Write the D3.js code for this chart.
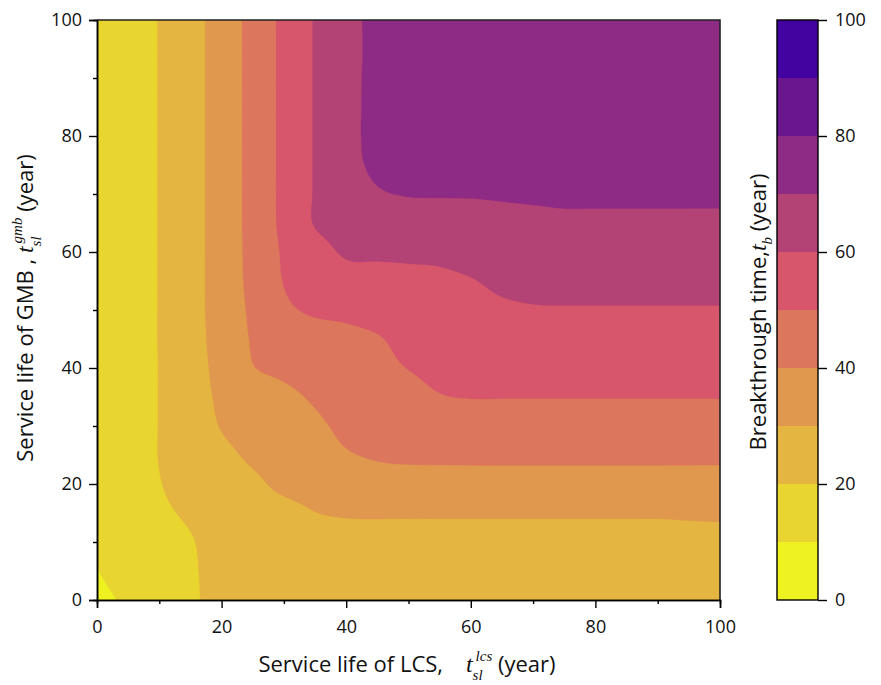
<!DOCTYPE html>
<html>
<head>
<meta charset="utf-8">
<script src="https://cdn.jsdelivr.net/npm/d3@7"></script>
<style>
  body { margin: 0; background: #fff; }
  text { font-family: "Open Sans", "Noto Sans", sans-serif; fill: #111; }
</style>
</head>
<body>
<svg id="chart" width="881" height="685"></svg>
<script>
// Service life of LCS (columns) and GMB (rows), years
const lcsLife = [0, 5, 10, 15, 20, 25, 30, 35, 40, 45, 50, 55, 60, 65, 70, 75, 80, 85, 90, 95, 100];
const gmbLife = [0, 5, 10, 15, 20, 25, 30, 35, 40, 45, 50, 55, 60, 65, 70, 75, 80, 85, 90, 95, 100];

// Breakthrough time t_b (year); one row per GMB service life, bottom (0) to top (100)
const breakthrough = [
  [7.5, 11.5, 15.3, 18.8, 22.5, 25, 26.5, 27.3, 27.5, 27.5, 27.5, 27.5, 27.5, 27.5, 27.5, 27.5, 27.5, 27.5, 27.5, 27.5, 27.5],
  [9.75, 13.5, 16.5, 19, 23, 25.5, 27, 27.8, 28, 28, 28, 28, 28, 28, 28, 28, 28, 28, 28, 28, 28],
  [10.6, 14.5, 17.3, 19.5, 23.3, 26, 27.5, 28.2, 28.5, 28.5, 28.5, 28.5, 28.5, 28.5, 28.5, 28.5, 28.5, 28.5, 28.5, 28.5, 28.5],
  [10.8, 15.3, 18.7, 21.1, 24.5, 27.2, 28.3, 29.9, 30.5, 30.7, 30.7, 30.7, 30.7, 30.7, 30.7, 30.7, 30.7, 30.7, 30.7, 30.9, 31.1],
  [11, 15.8, 19.7, 22.6, 25.6, 28.6, 31.4, 32.7, 34.5, 36.4, 36.8, 36.6, 36.6, 36.6, 36.6, 36.6, 36.6, 36.6, 36.6, 36.6, 36.6],
  [11.2, 16, 20.2, 24, 28, 31.3, 33.9, 36.5, 39.3, 40.8, 41.3, 41.6, 41.7, 41.7, 41.7, 41.7, 41.7, 41.7, 41.7, 41.7, 41.7],
  [11.5, 16.1, 20.2, 25.4, 30.4, 33.2, 36, 38.7, 41.5, 43.1, 44.3, 45.6, 46, 46, 46, 46, 46, 46, 46, 46, 46],
  [11.8, 16.2, 20.2, 26.2, 31.3, 34.6, 38, 40.9, 42.9, 44.9, 47.2, 49.6, 50.2, 50.2, 50.2, 50.2, 50.2, 50.2, 50.2, 50.2, 50.2],
  [12, 16.2, 20.2, 26.4, 32.6, 39.6, 41.7, 43.8, 45.8, 47.5, 50.2, 52, 52.5, 53, 53.2, 53.3, 53.3, 53.3, 53.3, 53.3, 53.3],
  [12.2, 16.3, 20.3, 26.5, 33.4, 40.6, 42.7, 45.1, 47.4, 49.3, 52.8, 54.2, 54.9, 55.9, 56.4, 56.4, 56.4, 56.4, 56.4, 56.4, 56.4],
  [12.5, 16.3, 20.3, 26.6, 33.9, 41.6, 48, 51.5, 52.4, 54, 55.5, 56.4, 57.3, 58.7, 59.4, 59.5, 59.5, 59.5, 59.5, 59.5, 59.5],
  [12.5, 16.3, 20.3, 26.6, 34.1, 42.5, 50.3, 54.2, 56.6, 57.3, 58.2, 58.6, 59.6, 61.6, 62.4, 62.5, 62.5, 62.5, 62.5, 62.5, 62.5],
  [12.5, 16.3, 20.3, 26.6, 34.1, 42.8, 51, 56.5, 61, 61.3, 61.4, 61.7, 63.1, 64.6, 65.2, 65.5, 65.5, 65.5, 65.5, 65.5, 65.5],
  [12.5, 16.3, 20.3, 26.6, 34.1, 43.1, 52.1, 60.5, 63.5, 65.2, 65.9, 66.1, 66.8, 67.7, 68.1, 68.5, 68.5, 68.5, 68.5, 68.5, 68.5],
  [12.5, 16.3, 20.3, 26.6, 34.1, 43.1, 52.2, 60.6, 67, 69.4, 70.3, 70.4, 70.4, 70.6, 70.9, 71.2, 71.2, 71.2, 71.2, 71.2, 71.2],
  [12.5, 16.3, 20.3, 26.6, 34.1, 43.1, 52.2, 60.6, 68, 70.7, 71, 71.1, 71.2, 71.5, 71.6, 71.8, 71.8, 71.9, 71.9, 72, 72],
  [12.5, 16.3, 20.3, 26.6, 34.1, 43.1, 52.2, 60.6, 68.3, 70.9, 71.5, 71.8, 72, 72.3, 72.4, 72.5, 72.6, 72.7, 72.8, 72.9, 73],
  [12.5, 16.3, 20.3, 26.6, 34.1, 43.1, 52.2, 60.6, 68.2, 71, 71.9, 72.3, 72.6, 73, 73.2, 73.4, 73.6, 73.8, 73.9, 74, 74.1],
  [12.5, 16.3, 20.3, 26.6, 34.1, 43.1, 52.2, 60.6, 68.1, 71.1, 72.3, 72.8, 73.2, 73.7, 74, 74.3, 74.6, 74.8, 75, 75.1, 75.2],
  [12.5, 16.3, 20.3, 26.6, 34.1, 43.1, 52.2, 60.6, 68, 71.1, 72.7, 73.3, 73.9, 74.4, 74.8, 75.2, 75.5, 75.8, 76, 76.2, 76.3],
  [12.5, 16.3, 20.3, 26.6, 34.1, 43.1, 52.2, 60.6, 68, 71.2, 73, 73.8, 74.5, 75, 75.5, 75.9, 76.2, 76.5, 76.7, 76.9, 77]
];

// Contour levels and the fill of each band [level, level + 10)
const levels = [0, 10, 20, 30, 40, 50, 60, 70, 80, 90, 100];
const bandColors = ["#EEF221", "#E9D52F", "#E4B540", "#E0974E", "#DC765C",
                    "#D7566B", "#B34275", "#8E2B85", "#6A178F", "#4203A0"];
const axisTicks = [0, 20, 40, 60, 80, 100];
const minorTicks = [10, 30, 50, 70, 90];

const svg = d3.select("#chart");
const plot = { left: 97, right: 720, top: 20, bottom: 600 };
const bar = { left: 777, right: 818 };

const x = d3.scaleLinear().domain([0, 100]).range([plot.left, plot.right]);
const y = d3.scaleLinear().domain([0, 100]).range([plot.bottom, plot.top]);

// Smooth resampling of the grid (Catmull-Rom) so the filled contours come out curved
const nx = lcsLife.length, ny = gmbLife.length;
const dxGrid = lcsLife[1] - lcsLife[0], dyGrid = gmbLife[1] - gmbLife[0];
function gridAt(i, j) {
  // linear extrapolation one cell past the edges
  if (i < 0) return 2 * gridAt(0, j) - gridAt(1, j);
  if (i > nx - 1) return 2 * gridAt(nx - 1, j) - gridAt(nx - 2, j);
  if (j < 0) return 2 * gridAt(i, 0) - gridAt(i, 1);
  if (j > ny - 1) return 2 * gridAt(i, ny - 1) - gridAt(i, ny - 2);
  return breakthrough[j][i];
}
function cubic(p0, p1, p2, p3, t) {
  return 0.5 * (2 * p1 + (p2 - p0) * t + (2 * p0 - 5 * p1 + 4 * p2 - p3) * t * t
    + (3 * p1 - p0 - 3 * p2 + p3) * t * t * t);
}
function valueAt(xv, yv) {
  const gx = (xv - lcsLife[0]) / dxGrid, gy = (yv - gmbLife[0]) / dyGrid;
  const i = Math.min(Math.floor(gx), nx - 2), j = Math.min(Math.floor(gy), ny - 2);
  const tx = gx - i, ty = gy - j;
  const row = jj => cubic(gridAt(i - 1, jj), gridAt(i, jj), gridAt(i + 1, jj), gridAt(i + 2, jj), tx);
  return cubic(row(j - 1), row(j), row(j + 1), row(j + 2), ty);
}

const res = 0.5;
const fnx = Math.round(100 / res) + 1, fny = Math.round(100 / res) + 1;
const fine = new Float64Array(fnx * fny);
for (let r = 0; r < fny; r++) {
  for (let c = 0; c < fnx; c++) {
    fine[r * fnx + c] = valueAt(c * res, r * res);
  }
}

const contours = d3.contours().size([fnx, fny]).thresholds(levels.slice(0, -1))(fine);

const toScreen = d3.geoTransform({
  point(px, py) {
    this.stream.point(x((px - 0.5) * res), y((py - 0.5) * res));
  }
});
const path = d3.geoPath(toScreen);

svg.append("defs").append("clipPath").attr("id", "plot-clip")
  .append("rect")
  .attr("x", plot.left).attr("y", plot.top)
  .attr("width", plot.right - plot.left).attr("height", plot.bottom - plot.top);

svg.append("g").attr("clip-path", "url(#plot-clip)")
  .selectAll("path")
  .data(contours)
  .join("path")
  .attr("d", path)
  .attr("fill", d => bandColors[levels.indexOf(d.value)])
  .attr("stroke", d => bandColors[levels.indexOf(d.value)])
  .attr("stroke-width", 0.4);

// Frame (top and right)
svg.append("path")
  .attr("d", `M${plot.left},${plot.top}H${plot.right}V${plot.bottom}`)
  .attr("fill", "none").attr("stroke", "#222").attr("stroke-width", 1.6);

// Axes
function styleAxis(g) {
  g.select(".domain").attr("stroke", "#000").attr("stroke-width", 1.5);
  g.selectAll(".tick line").attr("stroke", "#000").attr("stroke-width", 1.4);
  g.selectAll(".tick text").style("font-size", "18px").attr("fill", "#111");
}
svg.append("g")
  .attr("transform", `translate(0,${plot.bottom})`)
  .call(d3.axisBottom(x).tickValues(minorTicks).tickSize(4).tickFormat(""))
  .call(styleAxis);
svg.append("g")
  .attr("transform", `translate(0,${plot.bottom})`)
  .call(d3.axisBottom(x).tickValues(axisTicks).tickSize(8).tickPadding(12).tickFormat(d3.format("d")))
  .call(styleAxis);
svg.append("g")
  .attr("transform", `translate(${plot.left},0)`)
  .call(d3.axisLeft(y).tickValues(minorTicks).tickSize(4).tickFormat(""))
  .call(styleAxis);
svg.append("g")
  .attr("transform", `translate(${plot.left},0)`)
  .call(d3.axisLeft(y).tickValues(axisTicks).tickSize(8).tickPadding(7).tickFormat(d3.format("d")))
  .call(styleAxis);

// Colour bar
const cbY = d3.scaleLinear().domain([0, 100]).range([plot.bottom, plot.top]);
svg.append("g").selectAll("rect")
  .data(bandColors)
  .join("rect")
  .attr("x", bar.left)
  .attr("width", bar.right - bar.left)
  .attr("y", (d, k) => cbY(levels[k + 1]))
  .attr("height", (d, k) => cbY(levels[k]) - cbY(levels[k + 1]))
  .attr("fill", d => d);
svg.append("rect")
  .attr("x", bar.left).attr("y", plot.top)
  .attr("width", bar.right - bar.left).attr("height", plot.bottom - plot.top)
  .attr("fill", "none").attr("stroke", "#000").attr("stroke-width", 1.4);
svg.append("g")
  .attr("transform", `translate(${bar.right},0)`)
  .call(d3.axisRight(cbY).tickValues(axisTicks).tickSize(9).tickPadding(8).tickFormat(d3.format("d")))
  .call(g => g.select(".domain").remove())
  .call(styleAxis);

// Titles with italic serif symbols, sub- and superscripts
const NB = "\u00a0";
function title(parts, cx, cy, angle) {
  const g = svg.append("g");
  let cursor = 0;
  for (let k = 0; k < parts.length; k++) {
    const p = parts[k];
    const t = g.append("text")
      .attr("x", cursor)
      .attr("y", p.shift || 0)
      .style("font-size", p.size + "px")
      .text(p.text);
    if (p.math) t.style("font-family", "'Liberation Serif', 'DejaVu Serif', serif").style("font-style", "italic");
    const w = t.node().getComputedTextLength();
    if (p.stack) {
      // next part sits above this one at the same x
      const q = parts[++k];
      const s = g.append("text")
        .attr("x", cursor + (q.offset || 0))
        .attr("y", q.shift)
        .style("font-size", q.size + "px")
        .style("font-family", "'Liberation Serif', 'DejaVu Serif', serif")
        .style("font-style", "italic")
        .text(q.text);
      cursor += Math.max(w, s.node().getComputedTextLength() + (q.offset || 0));
    } else {
      cursor += w;
    }
  }
  g.attr("transform", `translate(${cx},${cy}) rotate(${angle}) translate(${-cursor / 2},0)`);
}

title([
  { text: "Service life of LCS," + NB + NB + NB + NB, size: 22 },
  { text: "t", size: 24, math: true },
  { text: "sl", size: 15, math: true, shift: 8, stack: true },
  { text: "lcs", size: 15, shift: -11, offset: 3 },
  { text: NB + "(year)", size: 22 }
], 407, 672, 0);

title([
  { text: "Service life of GMB ," + NB, size: 22 },
  { text: "t", size: 24, math: true },
  { text: "sl", size: 15, math: true, shift: 8, stack: true },
  { text: "gmb", size: 15, shift: -11, offset: 3 },
  { text: NB + "(year)", size: 22 }
], 33, 308, -90);

title([
  { text: "Breakthrough time,", size: 22 },
  { text: "t", size: 24, math: true },
  { text: "b", size: 15, math: true, shift: 6 },
  { text: NB + "(year)", size: 22 }
], 766, 312, -90);
</script>
</body>
</html>
